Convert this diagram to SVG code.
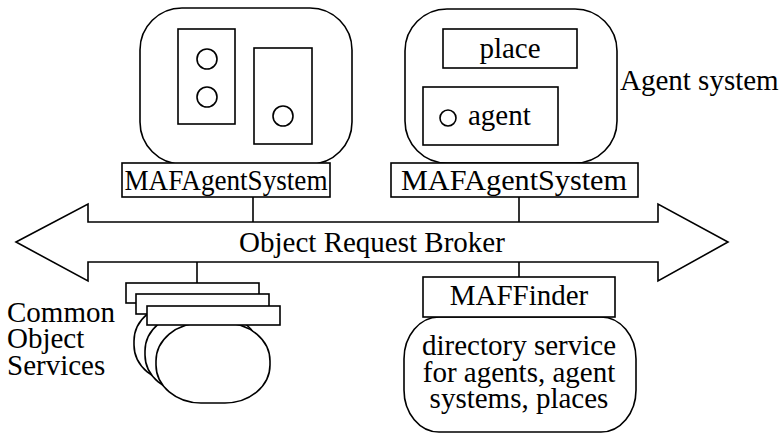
<svg xmlns="http://www.w3.org/2000/svg" width="781" height="433" viewBox="0 0 781 433">
<style>
.s{fill:#fff;stroke:#000;stroke-width:1.6}
.t{font-family:"Liberation Serif","Times New Roman",serif;font-size:29px;fill:#000}
.c{text-anchor:middle}
.ln{stroke:#000;stroke-width:1.6;fill:none}
</style>
<rect width="781" height="433" fill="#fff"/>
<g id="connectors">
<line class="ln" x1="253" y1="197" x2="253" y2="222"/>
<line class="ln" x1="519" y1="197" x2="519" y2="222"/>
<line class="ln" x1="197" y1="262" x2="197" y2="283"/>
<line class="ln" x1="519" y1="262" x2="519" y2="277"/>
</g>
<g id="orb">
<polygon class="s" points="16,242 88,204 88,222 658,222 658,204 728,242 658,281 658,262 88,262 88,281"/>
<text class="t c" x="372" y="252">Object Request Broker</text>
</g>
<g id="agentsystem1">
<rect class="s" x="140" y="8" width="212" height="156" rx="42" ry="42"/>
<rect class="s" x="178" y="29" width="57" height="95"/>
<circle class="s" cx="207" cy="59" r="10"/>
<circle class="s" cx="207" cy="97" r="10"/>
<rect class="s" x="254" y="48" width="58" height="96"/>
<circle class="s" cx="283" cy="116" r="10"/>
</g>
<g id="mafagentsystem1">
<rect class="s" x="122" y="163" width="208" height="34"/>
<text class="t c" x="226" y="190" textLength="203" lengthAdjust="spacingAndGlyphs">MAFAgentSystem</text>
</g>
<g id="agentsystem2">
<rect class="s" x="405" y="9" width="212" height="154" rx="42" ry="42"/>
<rect class="s" x="443" y="29" width="134" height="39"/>
<text class="t c" x="510" y="58">place</text>
<rect class="s" x="423" y="87" width="135" height="58"/>
<circle class="s" cx="448" cy="118" r="8"/>
<text class="t" x="468" y="125">agent</text>
</g>
<g id="agentsystemlabel">
<text class="t" x="620" y="90">Agent system</text>
</g>
<g id="mafagentsystem2">
<rect class="s" x="391" y="163" width="247" height="34"/>
<text class="t c" x="514" y="190" textLength="226" lengthAdjust="spacingAndGlyphs">MAFAgentSystem</text>
</g>
<g id="commonobjectservices">
<rect class="s" x="134" y="303" width="114" height="80" rx="45" ry="38"/>
<rect class="s" x="126" y="283" width="133" height="20"/>
<rect class="s" x="145" y="313" width="114" height="80" rx="45" ry="38"/>
<rect class="s" x="136" y="294" width="133" height="20"/>
<rect class="s" x="156" y="323" width="114" height="80" rx="45" ry="38"/>
<rect class="s" x="147" y="306" width="133" height="19"/>
<text class="t" x="7" y="322">Common</text>
<text class="t" x="7" y="348">Object</text>
<text class="t" x="7" y="375">Services</text>
</g>
<g id="maffinder">
<rect class="s" x="404" y="317" width="232" height="115" rx="35" ry="42"/>
<rect class="s" x="423" y="277" width="192" height="40"/>
<text class="t c" x="519" y="305">MAFFinder</text>
<text class="t c" x="519" y="355">directory service</text>
<text class="t c" x="519" y="382">for agents, agent</text>
<text class="t c" x="519" y="408">systems, places</text>
</g>
</svg>
